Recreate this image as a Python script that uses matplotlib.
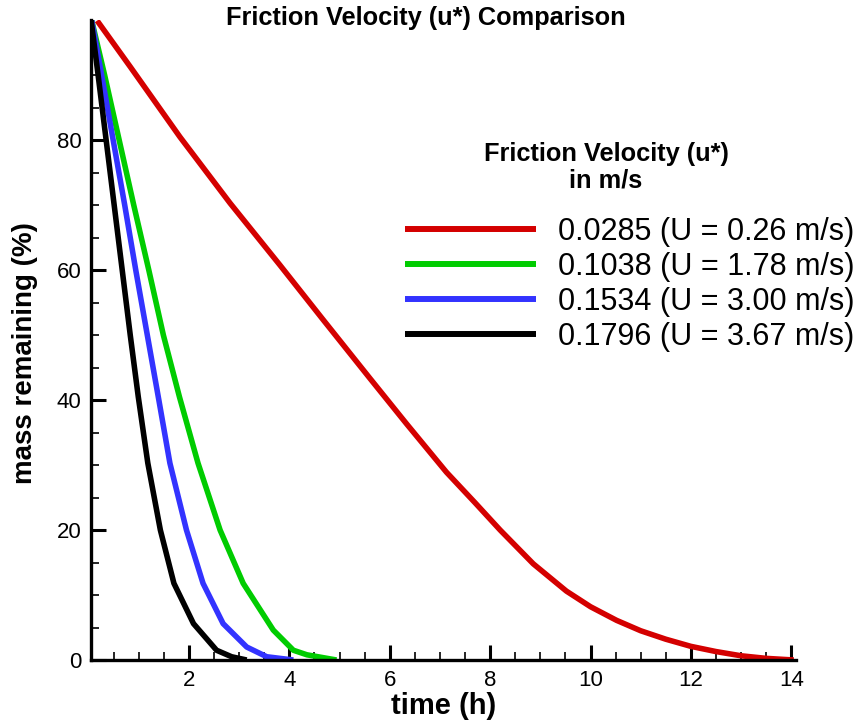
import matplotlib
matplotlib.use("Agg")
import matplotlib.pyplot as plt
from matplotlib.ticker import MultipleLocator

plt.rcParams['font.family'] = ['Liberation Sans', 'DejaVu Sans']

# mass remaining (%) vs time (h) for each friction velocity
t_0285 = [0.17, 0.83, 1.82, 2.82, 3.81, 4.68, 5.61, 6.34, 7.13, 7.70, 8.20, 8.86,
          9.52, 10.0, 10.52, 11.0, 11.5, 12.0, 12.5, 13.0, 13.5, 14.05]
m_0285 = [98.4, 91.3, 80.5, 70.3, 60.8, 52.3, 43.3, 36.3, 28.9, 24.2, 20.0, 14.8,
          10.6, 8.2, 6.1, 4.5, 3.2, 2.1, 1.3, 0.65, 0.25, 0.0]

t_1038 = [0.06, 0.32, 0.61, 0.90, 1.20, 1.49, 1.81, 2.18, 2.62, 3.08, 3.68, 4.08, 4.35, 4.94]
m_1038 = [98.5, 90.0, 80.0, 70.0, 60.0, 50.0, 40.5, 30.3, 20.0, 11.8, 4.6, 1.5, 0.8, 0.0]

t_1534 = [0.06, 0.26, 0.49, 0.72, 0.94, 1.17, 1.40, 1.62, 1.95, 2.28, 2.68, 3.15, 3.55, 4.08]
m_1534 = [98.5, 90.0, 80.0, 70.0, 60.0, 50.0, 40.0, 30.3, 20.0, 11.8, 5.6, 2.0, 0.5, 0.0]

t_1796 = [0.05, 0.19, 0.35, 0.51, 0.67, 0.83, 0.99, 1.18, 1.43, 1.70, 2.09, 2.55, 2.85, 3.15]
m_1796 = [98.5, 90.0, 80.0, 70.0, 60.0, 50.0, 40.5, 30.3, 20.0, 11.8, 5.6, 1.5, 0.5, 0.0]

labels = ['0.0285 (U = 0.26 m/s)', '0.1038 (U = 1.78 m/s)',
          '0.1534 (U = 3.00 m/s)', '0.1796 (U = 3.67 m/s)']
colors = ['#d40000', '#00cc00', '#3333ff', '#000000']

W, H = 855, 721
fig = plt.figure(figsize=(W / 100, H / 100), dpi=100)
ax = fig.add_axes([91 / W, 61 / H, 705.3 / W, 640 / H])

series = [(t_0285, m_0285), (t_1038, m_1038), (t_1534, m_1534), (t_1796, m_1796)]
for (t, m), lab, c in zip(series, labels, colors):
    ax.plot(t, m, color=c, lw=4, label=lab, solid_capstyle='butt', solid_joinstyle='round')

ax.set_xlim(0.048, 14.1)
ax.set_ylim(0, 98.5)
ax.xaxis.set_major_locator(MultipleLocator(2))
ax.xaxis.set_minor_locator(MultipleLocator(0.5))
ax.yaxis.set_major_locator(MultipleLocator(20))
ax.yaxis.set_minor_locator(MultipleLocator(5))

for s in ['top', 'right']:
    ax.spines[s].set_visible(False)
for s in ['left', 'bottom']:
    ax.spines[s].set_linewidth(2.4)

ax.tick_params(which='major', direction='in', length=10.5, width=2.2,
               labelsize=16, pad=7)
ax.tick_params(which='minor', direction='in', length=6, width=1.2)

ax.set_xlabel('time (h)', fontsize=21, fontweight='bold')
ax.set_ylabel('mass remaining (%)', fontsize=20, fontweight='bold')
ax.xaxis.set_label_coords(0.5, -0.05)
ax.yaxis.set_label_coords(-0.075, 0.48)

fig.text(426 / W, 1 - 25 / H, 'Friction Velocity (u*) Comparison',
         ha='center', va='baseline', fontsize=18.3, fontweight='bold')

# legend heading and entries
fig.text(606 / W, 1 - 161 / H, 'Friction Velocity (u*)',
         ha='center', va='baseline', fontsize=18.3, fontweight='bold')
fig.text(606 / W, 1 - 187 / H, 'in m/s',
         ha='center', va='baseline', fontsize=18.3, fontweight='bold')

leg = ax.legend(loc='upper left', bbox_to_anchor=(405 / W, 1 - 217 / H),
                bbox_transform=fig.transFigure, frameon=False, fontsize=22,
                handlelength=4.28, handletextpad=0.72, labelspacing=0.16,
                borderpad=0, borderaxespad=0)
for line in leg.get_lines():
    line.set_linewidth(4.3)

fig.savefig('out.png', dpi=100)
